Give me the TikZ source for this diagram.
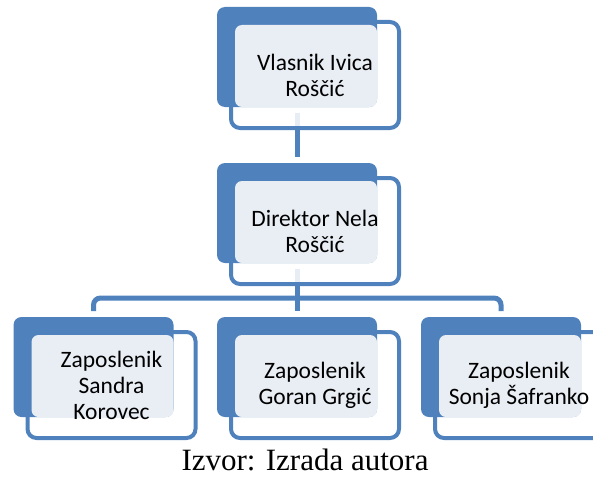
\documentclass[tikz,border=0pt]{standalone}
\usepackage{fontspec}
\setmainfont{Liberation Serif}
\newfontfamily\calib{Carlito}
\definecolor{cblue}{HTML}{4F81BD}
\definecolor{clight}{HTML}{E9EDF4}
\begin{document}
\begin{tikzpicture}[x=1pt,y=-1pt,
  bluebox/.style={fill=cblue,draw=none,rounded corners=8,minimum width=160,minimum height=100,anchor=north west,inner sep=0,outer sep=0},
  outlbox/.style={draw=cblue,line width=4,fill=white,fill opacity=0.86,rounded corners=9,minimum width=168,minimum height=106,anchor=north west,inner sep=0,outer sep=0},
  lightbox/.style={fill=clight,draw=none,rounded corners=7,minimum width=142,minimum height=82,anchor=north west,inner sep=0,outer sep=0},
  label/.style={font=\calib\fontsize{23.5}{26}\selectfont,align=center,inner sep=0,text=black},
  conn/.style={draw=cblue,line width=5,shorten <=6,shorten >=6},
  caption/.style={font=\fontsize{31}{36}\selectfont,anchor=base,inner sep=0}]
\useasboundingbox (0,0) rectangle (593,476);
\clip (0,0) rectangle (593,476);
% anchor points of the boxes (top-left of the dark blue rectangle)
\coordinate (p1) at (217,7);
\coordinate (p2) at (217,163);
\coordinate (p3) at (13.5,317);
\coordinate (p4) at (217,317);
\coordinate (p5) at (421,317);
% invisible placeholders for the dark rectangles (for connectors)
\foreach \i in {1,...,5}{
  \node[bluebox,fill=none] (b\i) at (p\i) {};
}
% connectors
\coordinate (bar) at (297,298);
\draw[conn] (b1.south) -- (b2.north);
\draw[conn] (b2.south) -- (b4.north);
\draw[conn,rounded corners=7] (b3.north) |- (bar) -| (b5.north);
% boxes
\foreach \i/\t in {1/{Vlasnik Ivica\\Roščić},2/{Direktor Nela\\Roščić},3/{Zaposlenik\\Sandra\\Korovec},4/{Zaposlenik\\Goran Grgić},5/{Zaposlenik\\Sonja Šafranko}}{
  \node[outlbox] (o\i) at ([shift={(14,15)}]p\i) {};
  \node[bluebox] (d\i) at (p\i) {};
  \node[lightbox] (l\i) at ([shift={(18,18)}]p\i) {};
  \node[label] (t\i) at (o\i.center) {\t};
}
\node[caption] (cap) at (305,470) {Izvor: Izrada autora};
\end{tikzpicture}
\end{document}
